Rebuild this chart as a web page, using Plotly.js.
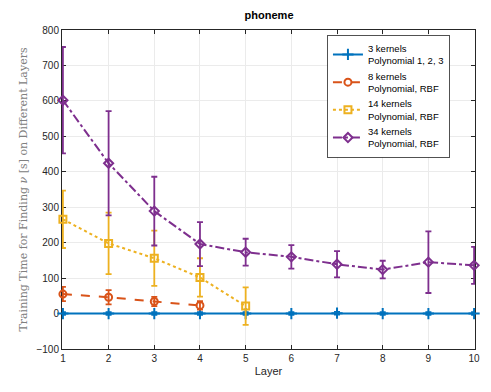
<!DOCTYPE html>
<html>
<head>
<meta charset="utf-8">
<script src="https://cdn.plot.ly/plotly-3.0.1.min.js"></script>
<style>
  body { margin: 0; background: #fff; }
  #chart { width: 491px; height: 392px; }
</style>
</head>
<body>
<div id="chart"></div>
<script>
const layers = [1, 2, 3, 4, 5, 6, 7, 8, 9, 10];

const k3Mean = [0, 0, 0, 0, 0, 0, 1, 0, 0, 0];
const k3Err = [4, 4, 4, 4, 4, 4, 4, 4, 4, 4];

const k8Mean = [55, 46, 34, 23];
const k8Err = [20, 20, 13, 12];

const k14Mean = [266, 198, 156, 102, 21];
const k14Err = [81, 87, 78, 54, 53];

const k34Mean = [602, 424, 289, 196, 173, 160, 139, 124, 145, 136];
const k34Err = [150, 147, 97, 62, 38, 33, 37, 25, 87, 52];

const colors = ["#0072BD", "#D95319", "#EDB120", "#7E2F8E"];

function series(x, y, err, name, color, dash, symbol) {
  return {
    x, y,
    name,
    type: "scatter",
    mode: "lines+markers",
    cliponaxis: false,
    line: { color, width: 2, dash },
    marker: {
      symbol,
      size: symbol === "cross-thin-open" ? 8 : 7,
      color,
      line: { color, width: 2 },
    },
    error_y: {
      type: "data",
      array: err,
      visible: true,
      color,
      thickness: 1.8,
      width: 3,
    },
  };
}

const data = [
  series(layers, k3Mean, k3Err, "3 kernels<br>Polynomial 1, 2, 3", colors[0], "solid", "cross-thin-open"),
  series(layers.slice(0, 4), k8Mean, k8Err, "8 kernels<br>Polynomial, RBF", colors[1], "dash", "circle-open"),
  series(layers.slice(0, 5), k14Mean, k14Err, "14 kernels<br>Polynomial, RBF", colors[2], "dot", "square-open"),
  series(layers, k34Mean, k34Err, "34 kernels<br>Polynomial, RBF", colors[3], "dashdot", "diamond-open"),
];

const axisCommon = {
  showline: true,
  linecolor: "#262626",
  linewidth: 1,
  mirror: "ticks",
  ticks: "inside",
  ticklen: 4,
  tickcolor: "#262626",
  gridcolor: "#ebebeb",
  zeroline: false,
  layer: "below traces",
  tickfont: { family: "Liberation Sans, Arial, sans-serif", size: 10, color: "#262626" },
};

const layout = {
  width: 491,
  height: 392,
  title: {
    text: "<b>phoneme</b>",
    font: { family: "Liberation Sans, Arial, sans-serif", size: 11, color: "#000" },
    x: 0.548,
    xanchor: "center",
    y: 0.97,
    yanchor: "top",
  },
  margin: { l: 62, r: 16, t: 30, b: 43 },
  xaxis: {
    ...axisCommon,
    range: [0.98, 10.02], // tiny pad so the edge error bars are not clipped
    tickvals: layers,
    title: {
      text: "Layer",
      font: { family: "Liberation Sans, Arial, sans-serif", size: 11, color: "#262626" },
      standoff: 4,
    },
  },
  yaxis: {
    ...axisCommon,
    range: [-100, 800],
    dtick: 100,
    title: {
      text: "Training Time for Finding <i>ν</i> [s] on Different Layers",
      font: { family: "DejaVu Serif, Liberation Serif, serif", size: 11, color: "#808080" },
      standoff: 6,
    },
  },
  showlegend: true,
  legend: {
    x: 0.642,
    y: 0.985,
    xanchor: "left",
    yanchor: "top",
    bgcolor: "#ffffff",
    bordercolor: "#262626",
    borderwidth: 0.8,
    font: { family: "Liberation Sans, Arial, sans-serif", size: 9.5, color: "#000" },
    tracegroupgap: 0,
    itemwidth: 30,
  },
  paper_bgcolor: "#ffffff",
  plot_bgcolor: "#ffffff",
};

Plotly.newPlot("chart", data, layout, { displayModeBar: false });
</script>
</body>
</html>
